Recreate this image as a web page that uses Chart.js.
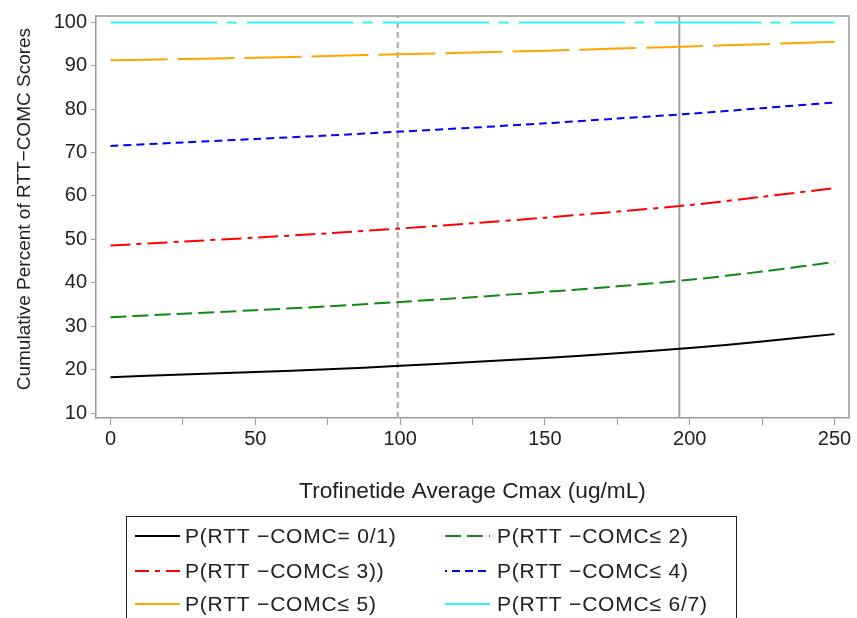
<!DOCTYPE html>
<html>
<head>
<meta charset="utf-8">
<script src="https://cdn.jsdelivr.net/npm/chart.js@4"></script>
<style>
  html, body { margin: 0; padding: 0; background: #fff; }
  #wrap { width: 857px; height: 618px; }
</style>
</head>
<body>
<div id="wrap"><canvas id="chart" width="857" height="618"></canvas></div>
<script>
// Trofinetide Cmax vs cumulative RTT-COMC score probabilities
const cmax = [0, 25, 50, 75, 100, 125, 150, 175, 200, 225, 250];

const pEq01 = [18.3, 18.9, 19.5, 20.1, 20.9, 21.8, 22.7, 23.8, 25.0, 26.5, 28.2];
const pLe2  = [32.1, 32.9, 33.7, 34.6, 35.6, 36.7, 37.9, 39.2, 40.7, 42.6, 44.8];
const pLe3  = [48.6, 49.5, 50.4, 51.4, 52.5, 53.7, 55.0, 56.4, 57.9, 59.8, 61.8];
const pLe4  = [71.5, 72.3, 73.1, 73.9, 74.8, 75.7, 76.7, 77.8, 78.9, 80.2, 81.5];
const pLe5  = [91.2, 91.5, 91.8, 92.2, 92.6, 93.0, 93.4, 93.9, 94.4, 94.9, 95.5];
const pLe67 = [99.9, 99.9, 99.9, 99.9, 99.9, 99.9, 99.9, 99.9, 99.9, 99.9, 99.9];

const seriesLabels = [
  'P(RTT \u2212COMC= 0/1)',
  'P(RTT \u2212COMC\u2264 2)',
  'P(RTT \u2212COMC\u2264 3))',
  'P(RTT \u2212COMC\u2264 4)',
  'P(RTT \u2212COMC\u2264 5)',
  'P(RTT \u2212COMC\u2264 6/7)'
];

// reference Cmax values (dashed and solid verticals)
const refDashedX = 99.2;
const refSolidX = 196.4;

const xTicks = [0, 25, 50, 75, 100, 125, 150, 175, 200, 225, 250];
const yTicks = [10, 20, 30, 40, 50, 60, 70, 80, 90, 100];
const xMin = -5, xMax = 255;
const yMin = 8.9, yMax = 101.4;

const FONT = "'Liberation Sans', Arial, sans-serif";

const styles = [
  { color: '#000000', dash: [] },
  { color: '#108a10', dash: [16, 6] },
  { color: '#ff0000', dash: [20, 6, 5, 6] },
  { color: '#0000ff', dash: [8, 5] },
  { color: '#ffa500', dash: [57, 10] },
  { color: '#33f5f5', dash: [107, 9, 10, 10] }
];

const seriesData = [pEq01, pLe2, pLe3, pLe4, pLe5, pLe67];

const curveSets = seriesData.map((vals, i) => ({
  label: seriesLabels[i],
  data: cmax.map((x, j) => ({ x, y: vals[j] })),
  borderColor: styles[i].color,
  borderDash: styles[i].dash,
  borderWidth: 2,
  pointRadius: 0,
  tension: 0.3,
  fill: false,
  order: 0
}));

const refSets = [
  {
    label: 'ref dashed',
    data: [{ x: refDashedX, y: yMin }, { x: refDashedX, y: yMax }],
    borderColor: '#b8b8b8',
    borderDash: [6, 4],
    borderWidth: 2.5,
    pointRadius: 0,
    order: 5
  },
  {
    label: 'ref solid',
    data: [{ x: refSolidX, y: yMin }, { x: refSolidX, y: yMax }],
    borderColor: '#a0a0a0',
    borderWidth: 2,
    pointRadius: 0,
    order: 5
  }
];

// top and right edges of the plot frame
const framePlugin = {
  id: 'frame',
  afterDraw(chart) {
    const { ctx, chartArea: a } = chart;
    ctx.save();
    ctx.strokeStyle = '#999';
    ctx.lineWidth = 1.5;
    ctx.beginPath();
    ctx.moveTo(a.left, a.top);
    ctx.lineTo(a.right, a.top);
    ctx.lineTo(a.right, a.bottom);
    ctx.stroke();
    ctx.restore();
  }
};

// boxed two-column legend under the axis title
const legendBox = {
  id: 'legendBox',
  afterDraw(chart) {
    const ctx = chart.ctx;
    const box = { left: 126.5, top: 516.5, right: 736.5, bottom: 640 };
    const cols = [{ line: 135, text: 185 }, { line: 445, text: 497 }];
    const rows = [536, 571, 604];
    const sampleLen = 45;
    ctx.save();
    ctx.strokeStyle = '#222';
    ctx.lineWidth = 1;
    ctx.strokeRect(box.left, box.top, box.right - box.left, box.bottom - box.top);
    ctx.font = '21px ' + FONT;
    ctx.letterSpacing = '0.8px';
    ctx.textBaseline = 'middle';
    ctx.textAlign = 'left';
    curveSets.forEach((ds, i) => {
      const c = cols[i % 2];
      const y = rows[Math.floor(i / 2)];
      ctx.strokeStyle = ds.borderColor;
      ctx.lineWidth = 2;
      ctx.setLineDash(ds.borderDash);
      ctx.lineDashOffset = i === 5 ? 12 : (i === 2 || i === 3 ? 6 : 0);
      ctx.beginPath();
      ctx.moveTo(c.line, y);
      ctx.lineTo(c.line + sampleLen, y);
      ctx.stroke();
      ctx.setLineDash([]);
      ctx.fillStyle = '#222';
      ctx.fillText(ds.label, c.text, y + 1);
    });
    ctx.restore();
  }
};

new Chart(document.getElementById('chart'), {
  type: 'line',
  data: { datasets: [...curveSets, ...refSets] },
  options: {
    responsive: false,
    animation: false,
    layout: { padding: { top: 14, right: 8, bottom: 113, left: 0 } },
    plugins: {
      legend: { display: false },
      tooltip: { enabled: false }
    },
    scales: {
      x: {
        type: 'linear',
        min: xMin,
        max: xMax,
        afterBuildTicks: s => { s.ticks = xTicks.map(v => ({ value: v })); },
        afterFit: s => { s.height = 87; },
        ticks: {
          callback: v => (v % 50 === 0 ? String(v) : ''),
          font: { family: FONT, size: 20 },
          color: '#222',
          padding: 2,
          maxRotation: 0
        },
        grid: { drawOnChartArea: false, tickLength: 7, color: '#999' },
        border: { color: '#999', width: 1.5 },
        title: {
          display: true,
          text: 'Trofinetide Average Cmax (ug/mL)',
          font: { family: FONT, size: 22.7 },
          color: '#222',
          padding: { top: 0, bottom: 0 }
        }
      },
      y: {
        min: yMin,
        max: yMax,
        afterBuildTicks: s => { s.ticks = yTicks.map(v => ({ value: v })); },
        afterFit: s => { s.width = 96; },
        ticks: {
          font: { family: FONT, size: 20 },
          color: '#222',
          padding: 4
        },
        grid: { drawOnChartArea: false, tickLength: 5, color: '#999' },
        border: { color: '#999', width: 1.5 },
        title: {
          display: true,
          text: '   Cumulative Percent of RTT\u2212COMC Scores',
          font: { family: FONT, size: 19 },
          color: '#222',
          padding: { top: 13, bottom: 0 }
        }
      }
    }
  },
  plugins: [framePlugin, legendBox]
});
</script>
</body>
</html>
